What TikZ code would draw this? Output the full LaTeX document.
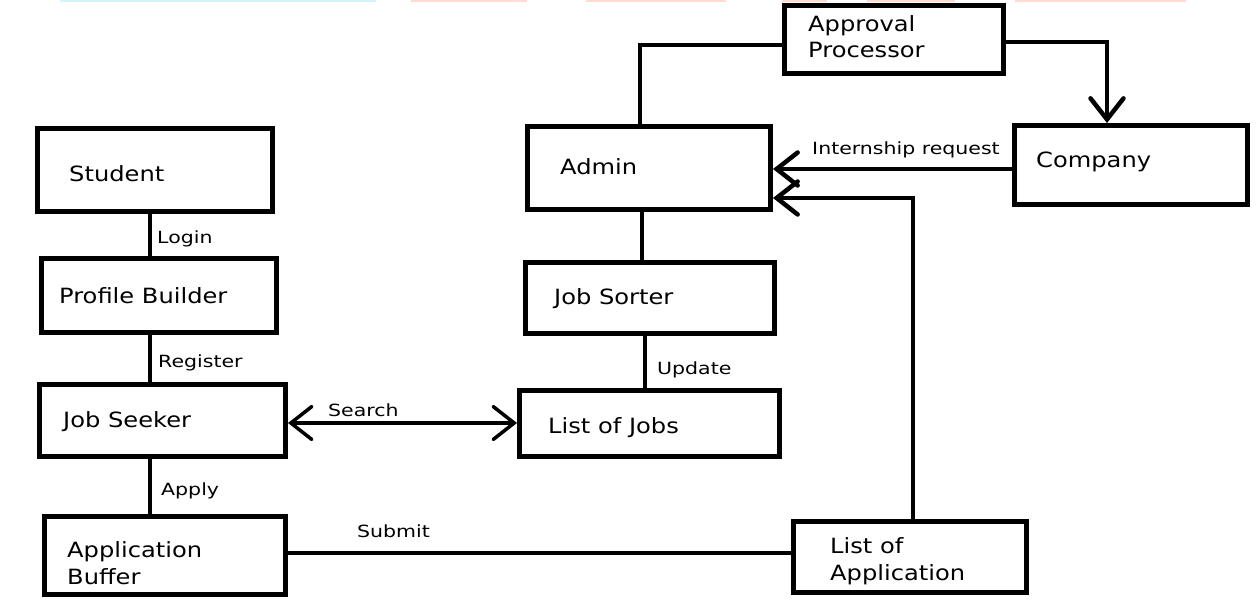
\documentclass[tikz,border=0pt]{standalone}
\usepackage{fontspec}
\usetikzlibrary{arrows.meta}
\newfontfamily\boxfont[FakeStretch=1.15]{DejaVu Sans}
\newfontfamily\lblfont[FakeStretch=1.22]{DejaVu Sans}
\definecolor{palecyan}{HTML}{D6F3FA}
\definecolor{palesalmon}{HTML}{FBDDD5}
\tikzset{
  box/.style={draw, line width=5pt, rectangle, inner sep=0pt},
  boxtext/.style={anchor=base west, inner sep=0pt, font=\boxfont\fontsize{21}{25}\selectfont},
  lbl/.style={anchor=base west, inner sep=0pt, font=\lblfont\fontsize{16.8}{20}\selectfont},
  conn/.style={line width=4.5pt},
  thinconn/.style={line width=3.5pt},
  arr/.style={-{Straight Barb[length=21pt,width=33pt,line cap=round]}},
  darr/.style={{Straight Barb[length=21pt,width=33pt,line cap=round]}-{Straight Barb[length=21pt,width=33pt,line cap=round]}}
}
\begin{document}
\begin{tikzpicture}[x=1pt,y=-1pt]
\useasboundingbox (0,0) rectangle (1258,612);
% faint bars at the top edge
\fill[palecyan] (60,0) rectangle (376,2);
\fill[palesalmon] (411,0) rectangle (527,2);
\fill[palesalmon] (586,0) rectangle (726,2);
\fill[palesalmon] (782,0) rectangle (827,2);
\fill[palesalmon] (867,0) rectangle (955,2);
\fill[palesalmon] (1015,0) rectangle (1186,2);
% boxes
\node[box, minimum width=235pt, minimum height=83pt] (student) at (155,170) {};
\node[box, minimum width=235pt, minimum height=74pt] (pb) at (159,295.5) {};
\node[box, minimum width=246pt, minimum height=72pt] (js) at (162.5,420.5) {};
\node[box, minimum width=241pt, minimum height=78pt] (ab) at (165,555.5) {};
\node[box, minimum width=219pt, minimum height=68pt] (ap) at (894,39.5) {};
\node[box, minimum width=243pt, minimum height=83pt] (admin) at (649,168) {};
\node[box, minimum width=233pt, minimum height=79pt] (company) at (1131,165) {};
\node[box, minimum width=249pt, minimum height=71pt] (sorter) at (650,298) {};
\node[box, minimum width=260pt, minimum height=66pt] (loj) at (649.5,423.5) {};
\node[box, minimum width=233pt, minimum height=71pt] (loa) at (910,557) {};
% box texts
\node[boxtext] (tstudent) at (69,182) {Student};
\node[boxtext] (tpb) at (59,303) {Profile Builder};
\node[boxtext] (tjs) at (63,427) {Job Seeker};
\node[boxtext] (tab1) at (67,557) {Application};
\node[boxtext] (tab2) at (67,584) {Buffer};
\node[boxtext] (tap1) at (808,32) {Approval};
\node[boxtext] (tap2) at (808,58) {Processor};
\node[boxtext] (tadmin) at (560,175) {Admin};
\node[boxtext] (tcompany) at (1036,168) {Company};
\node[boxtext] (tsorter) at (554,305) {Job Sorter};
\node[boxtext] (tloj) at (548,433) {List of Jobs};
\node[boxtext] (tloa1) at (830,553) {List of};
\node[boxtext] (tloa2) at (830,580) {Application};
% connectors
\draw[conn] ([xshift=-5pt]student.south) -- ([xshift=-5pt]student.south |- pb.north);
\draw[conn] ([xshift=-9pt]pb.south) -- ([xshift=-9pt]pb.south |- js.north);
\draw[conn] ([xshift=-12.5pt]js.south) -- ([xshift=-12.5pt]js.south |- ab.north);
\draw[thinconn, darr] ([yshift=-2.5pt]js.east) -- ([yshift=-2.5pt]js.east -| loj.west);
\draw[thinconn] ([yshift=2.5pt]ab.east) -- ([yshift=2.5pt]ab.east -| loa.west);
\draw[conn] ([xshift=-7pt]admin.south) -- ([xshift=-7pt]admin.south |- sorter.north);
\draw[conn] ([xshift=-5pt]sorter.south) -- ([xshift=-5pt]sorter.south |- loj.north);
\draw[conn] ([xshift=-9pt]admin.north) |- ([yshift=-5.5pt]ap.west);
\draw[conn, arr] ([yshift=-2.5pt]ap.east) -| ([xshift=-24pt]company.north);
\draw[conn, arr] ([yshift=-4pt]company.west) -- ([yshift=-4pt]company.west -| admin.east);
\draw[conn, arr] ([xshift=3pt]loa.north) |- ([yshift=-30pt]admin.east);
% labels
\node[lbl] (llogin) at (157,244) {Login};
\node[lbl] (lregister) at (158,367) {Register};
\node[lbl] (lapply) at (161,495) {Apply};
\node[lbl] (lsearch) at (328,416) {Search};
\node[lbl] (lsubmit) at (357,537) {Submit};
\node[lbl] (lupdate) at (657,374) {Update};
\node[lbl] (lreq) at (812,155) {Internship request};
\end{tikzpicture}
\end{document}
